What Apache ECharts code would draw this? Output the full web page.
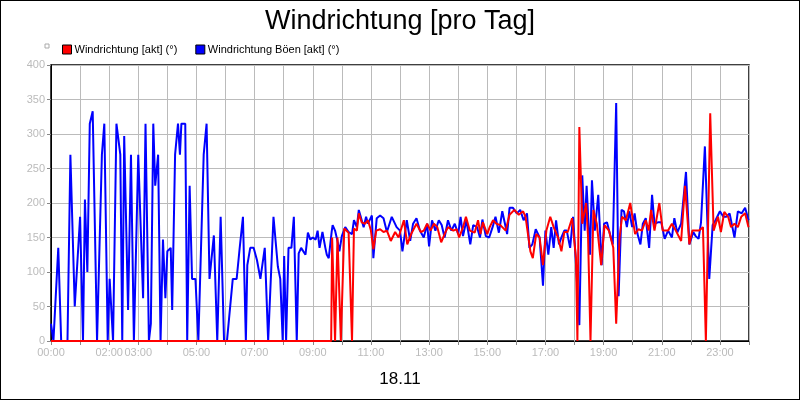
<!DOCTYPE html>
<html><head><meta charset="utf-8">
<script src="https://cdn.jsdelivr.net/npm/echarts@6/dist/echarts.min.js"></script>
<style>html,body{margin:0;padding:0;background:#fff}#c{width:800px;height:400px;box-sizing:border-box;border:1px solid #000}</style>
</head><body><div id="c"></div>
<script>
// time in minutes of day
const blueT=[0,5,15,21,34,40,49,60,66,70,75,80,86,95,105,110,117,121,128,135,143,147,151,159,165,171,180,190,195,202,206,211,215,221,226,231,236,240,247,250,256,262,266,269,277,281,286,291,298,304,315,321,327,336,343,350,357,363,375,383,389,396,402,405,411,418,425,432,436,441,448,459,468,473,478,481,485,490,496,501,507,511,516,525,530,535,540,546,550,554,560,566,569,573,579,581,586,591,595,600,607,614,621,625,631,635,639,645,650,654,662,665,672,679,686,693,703,713,
720,725,734,741,747,754,761,769,776,780,786,793,800,806,812,819,826,833,840,845,850,857,865,871,879,885,890,897,904,911,917,924,931,941,946,953,961,968,975,982,987,993,1000,1008,1015,1020,1026,1032,1037,1042,1048,1053,1059,1064,1071,1077,1082,1090,1096,1101,1105,1112,1116,1122,1129,1136,1141,1147,1155,1159,1166,1171,1177,1182,1188,1193,1199,1204,1210,1216,1221,1227,1234,1240,1245,1252,1259,1266,1273,1281,1286,1292,1300,1310,1317,1325,1330,1336,1341,1349,1358,1365,1371,1380,1387,1393,1400,1410,1417,1425,1432,1439];
const blueV=[25,0,135,0,0,270,50,180,0,205,100,315,333,0,270,315,0,90,0,315,270,0,297,45,270,0,270,62,315,0,25,315,225,270,0,147,62,130,135,45,270,315,270,315,315,0,225,90,90,0,270,315,90,153,0,180,0,0,90,90,133,180,0,110,135,135,117,90,90,135,0,180,108,90,0,123,0,135,135,180,0,127,135,125,157,147,150,147,160,135,158,135,125,120,158,168,160,145,130,152,165,158,155,175,165,190,180,165,180,170,182,120,178,182,178,158,180,165,
160,130,175,145,170,178,160,150,170,137,175,160,175,168,150,175,160,170,155,180,152,175,140,168,165,150,176,152,150,165,180,157,188,155,193,193,185,190,175,185,135,140,162,150,80,160,125,165,135,175,140,150,160,160,135,180,125,23,240,160,225,125,233,160,212,110,170,172,150,140,345,65,190,188,165,188,165,185,155,140,170,178,135,212,170,172,172,148,160,150,178,157,170,245,140,158,152,148,172,282,90,168,175,188,180,180,185,150,188,185,193,175];
const redT=[0,578,580,586,591,598,605,614,621,625,631,635,641,648,654,660,665,671,679,686,693,701,710,717,
720,728,735,743,754,763,769,776,783,790,797,805,812,819,830,837,842,850,856,864,874,881,886,891,900,905,912,919,927,938,946,956,965,974,979,989,994,1001,1008,1015,1022,1030,1037,1046,1053,1059,1066,1075,1083,1086,1090,1096,1104,1108,1113,1119,1126,1135,1142,1151,1160,1166,1173,1178,1186,1195,1205,1212,1219,1227,1233,1238,1245,1255,1262,1273,1281,1289,1300,1308,1317,1323,1330,1337,1345,1351,1360,1367,1376,1382,1389,1397,1403,1410,1417,1424,1432,1439];
const redV=[0,0,150,0,150,0,163,157,0,163,160,185,172,170,175,160,133,160,162,158,160,145,158,150,
148,175,140,155,170,158,160,170,160,170,165,143,155,165,160,162,150,165,180,160,157,175,155,172,155,165,175,170,168,160,183,190,183,188,180,130,120,155,150,110,160,180,165,150,130,158,158,178,120,0,310,170,200,150,0,190,170,110,168,160,135,25,150,180,175,200,155,162,160,175,160,190,160,200,160,160,170,160,145,225,140,160,160,160,165,0,330,160,180,158,187,180,165,170,165,180,185,165];
const labeledHours=[0,2,3,5,7,9,11,13,15,17,19,21,23];
const title='Windrichtung [pro Tag]';
const xName='18.11';
const names=['Windrichtung [akt] (°)','Windrichtung Böen [akt] (°)'];
const zip=(t,v)=>t.map((x,i)=>[x,v[i]]);
const ch=echarts.init(document.getElementById('c'));
const font='Liberation Sans, Arial, sans-serif';
ch.setOption({
 animation:false,
 title:{text:title,left:'center',top:2,textStyle:{fontFamily:font,fontSize:27,fontWeight:'normal',color:'#000'}},
 graphic:[{type:'rect',shape:{x:44,y:43,width:4,height:4},style:{fill:'#fff',stroke:'#aaa'}}],
 legend:{left:56,top:38,itemWidth:9,itemHeight:9,itemGap:18,icon:'rect',
   textStyle:{fontFamily:font,fontSize:11,color:'#000',padding:[0,0,0,-2]},
   data:[{name:names[0],itemStyle:{borderColor:'#000',borderWidth:1}},{name:names[1],itemStyle:{borderColor:'#000',borderWidth:1}}]},
 grid:{left:50,right:50,top:64,bottom:58,show:true,borderColor:'#000',borderWidth:1.5},
 xAxis:{type:'value',min:0,max:1440,interval:60,name:xName,nameLocation:'middle',nameGap:30,
   nameTextStyle:{fontFamily:font,fontSize:17,color:'#000'},
   axisLine:{lineStyle:{color:'#000'}},axisTick:{show:true,length:4,lineStyle:{color:'#888'}},
   axisLabel:{fontFamily:font,fontSize:11,color:'#bbb',margin:6,
     formatter:v=>{const h=v/60;return labeledHours.includes(h)?String(h).padStart(2,'0')+':00':'';}},
   splitLine:{show:true,lineStyle:{color:'#bbb'}}},
 yAxis:{type:'value',min:0,max:400,interval:50,
   axisLine:{show:true,lineStyle:{color:'#000'}},axisTick:{show:true,length:4,lineStyle:{color:'#888'}},
   axisLabel:{fontFamily:font,fontSize:11,color:'#bbb',margin:6},
   splitLine:{lineStyle:{color:'#bbb'}}},
 series:[
  {name:names[1],type:'line',data:zip(blueT,blueV),symbol:'none',lineStyle:{color:'#0000ff',width:2},itemStyle:{color:'#0000ff'},z:2},
  {name:names[0],type:'line',data:zip(redT,redV),symbol:'none',lineStyle:{color:'#ff0000',width:2},itemStyle:{color:'#ff0000'},z:3}
 ]
});
</script></body></html>
